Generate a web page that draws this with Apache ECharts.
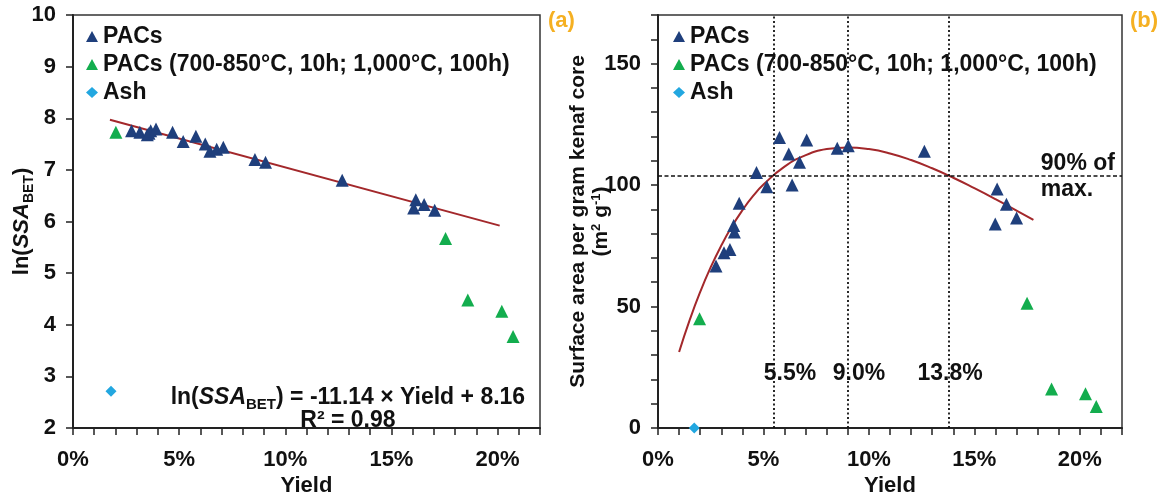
<!DOCTYPE html>
<html><head><meta charset="utf-8">
<script src="https://cdn.jsdelivr.net/npm/echarts@6/dist/echarts.min.js"></script>
<style>html,body{margin:0;padding:0;background:#fff}#c{width:1157px;height:502px}</style>
</head><body><div id="c"></div>
<script>
// ---- data ----
// panel (a): ln(SSA_BET) vs yield (%)
const pacsLn = [[2.76,7.76],[3.15,7.73],[3.50,7.68],[3.58,7.71],[3.66,7.76],[3.91,7.79],[4.69,7.73],[5.19,7.55],[5.79,7.65],[6.23,7.50],[6.45,7.36],[6.77,7.40],[7.08,7.44],[8.57,7.20],[9.07,7.15],[12.68,6.80],[16.05,6.26],[16.15,6.42],[16.54,6.33],[17.04,6.22]];
const hotLn = [[2.02,7.73],[17.55,5.67],[18.60,4.48],[20.20,4.26],[20.73,3.77]];
const ashLn = [[1.79,2.71]];
const fitLn = [[1.74,7.97],[20.10,5.92]];
// panel (b): surface area per gram kenaf core vs yield (%)
const pacsArea = [[2.75,66.7],[3.13,72.1],[3.41,73.5],[3.59,83.4],[3.62,80.7],[3.85,92.5],[4.67,105.2],[5.16,99.3],[5.76,119.6],[6.20,112.8],[6.36,100.0],[6.71,109.4],[7.05,118.5],[8.50,115.2],[9.02,116.2],[12.63,113.9],[15.99,84.0],[16.08,98.4],[16.52,92.1],[17.00,86.4]];
const hotArea = [[1.97,45.0],[17.50,51.4],[18.66,16.1],[20.27,14.1],[20.78,8.9]];
const ashArea = [[1.72,0]];
const curveArea = [[1,31.3],[1.5,44.4],[2,56.0],[2.5,66.2],[3,75.1],[3.5,82.9],[4,89.6],[4.5,95.4],[5,100.2],[6,107.6],[7,112.3],[8,114.8],[9,115.5],[10,114.8],[11,113.0],[12,110.3],[13,106.9],[14,103.0],[15,98.7],[16,94.2],[17,89.5],[17.8,85.7]];
const optimumYields = [5.5, 9.0, 13.8];
const optimumLabels = ['5.5%', '9.0%', '13.8%'];
const ninetyPctMax = 104;
const seriesNames = ['PACs', 'PACs (700-850°C, 10h; 1,000°C, 100h)', 'Ash'];
const yieldLabelStep = 5;

// ---- styles ----
const F = 'Liberation Sans, Arial, sans-serif';
const INK = '#111111';
const C_BLUE = '#1f3f7c', C_GREEN = '#13ad4e', C_ASH = '#22a7e0', C_FIT = '#a3282b', C_TAG = '#f5b022';

const chart = echarts.init(document.getElementById('c'), null, {renderer: 'canvas'});

function xAxisFor(gi) {
  return {
    gridIndex: gi, type: 'value', min: 0, max: 22, interval: 1,
    name: 'Yield', nameLocation: 'middle', nameGap: 47, nameMoveOverlap: false,
    nameTextStyle: {fontFamily: F, fontWeight: 'bold', fontSize: 22, color: INK},
    axisLine: {lineStyle: {color: '#222', width: 2}},
    axisTick: {length: 7, lineStyle: {color: '#222', width: 1.5}},
    axisLabel: {margin: 21, fontFamily: F, fontWeight: 'bold', fontSize: 22, color: INK,
      formatter: v => (Math.round(v) % yieldLabelStep === 0 && v <= 20) ? v + '%' : ''},
    splitLine: {show: false}
  };
}
function scatterFor(gi, name, data, color, symbol, size) {
  return {type: 'scatter', name, xAxisIndex: gi, yAxisIndex: gi, data, symbol, symbolSize: size,
    itemStyle: {color, opacity: 1}, z: 5, emphasis: {disabled: true}};
}
const legendBase = {
  orient: 'vertical', itemWidth: 12, itemHeight: 11, itemGap: 5, selectedMode: false,
  textStyle: {fontFamily: F, fontWeight: 'bold', fontSize: 23, color: INK},
  data: [{name: seriesNames[0], icon: 'triangle'}, {name: seriesNames[1], icon: 'triangle'}, {name: seriesNames[2], icon: 'diamond'}]
};
const noBorder = {textBorderWidth: 0, textShadowBlur: 0, opacity: 1};

const option = {
  animation: false,
  backgroundColor: '#fff',
  title: [
    {text: '(a)', left: 543, top: 5, textStyle: {fontFamily: F, fontWeight: 'bold', fontSize: 22, color: C_TAG}},
    {text: '(b)', left: 1125, top: 5, textStyle: {fontFamily: F, fontWeight: 'bold', fontSize: 22, color: C_TAG}}
  ],
  legend: [
    Object.assign({}, legendBase, {left: 81, top: 20}),
    Object.assign({}, legendBase, {left: 668, top: 20})
  ],
  grid: [
    {left: 73, top: 15, width: 467, height: 417, show: true, borderColor: '#333', borderWidth: 1.5, backgroundColor: 'transparent'},
    {left: 658, top: 15, width: 464, height: 417, show: true, borderColor: '#333', borderWidth: 1.5, backgroundColor: 'transparent'}
  ],
  xAxis: [xAxisFor(0), xAxisFor(1)],
  yAxis: [
    {gridIndex: 0, type: 'value', min: 2, max: 10, interval: 1,
      name: '{n|ln(}{i|SSA}{s|BET}{n|)}', nameLocation: 'middle', nameGap: 37, nameMoveOverlap: false,
      nameTextStyle: {fontFamily: F, fontWeight: 'bold', fontSize: 22, color: INK,
        rich: {n: {fontFamily: F, fontWeight: 'bold', fontSize: 22, color: INK, lineHeight: 28},
               i: {fontFamily: F, fontWeight: 'bold', fontStyle: 'italic', fontSize: 22, color: INK, lineHeight: 28},
               s: {fontFamily: F, fontWeight: 'bold', fontSize: 14, color: INK, lineHeight: 14, verticalAlign: 'bottom'}}},
      axisLine: {lineStyle: {color: '#222', width: 2}},
      axisTick: {length: 7, lineStyle: {color: '#222', width: 1.5}},
      axisLabel: {margin: 17, fontFamily: F, fontWeight: 'bold', fontSize: 22, color: INK},
      splitLine: {show: false}},
    {gridIndex: 1, type: 'value', min: 0, max: 170, interval: 10,
      name: '{n|Surface area per gram kenaf core}\n{n|(m}{p|2}{n| g}{p|-1}{n|)}', nameLocation: 'middle', nameGap: 45, nameMoveOverlap: false,
      nameTextStyle: {fontFamily: F, fontWeight: 'bold', fontSize: 21, color: INK,
        rich: {n: {fontFamily: F, fontWeight: 'bold', fontSize: 21, color: INK, lineHeight: 23},
               p: {fontFamily: F, fontWeight: 'bold', fontSize: 13, color: INK, lineHeight: 13, verticalAlign: 'top'}}},
      axisLine: {lineStyle: {color: '#222', width: 2}},
      axisTick: {length: 7, lineStyle: {color: '#222', width: 1.5}},
      axisLabel: {margin: 17, fontFamily: F, fontWeight: 'bold', fontSize: 22, color: INK,
        formatter: v => (v % 50 === 0 && v <= 150) ? String(v) : ''},
      splitLine: {show: false}}
  ],
  series: [
    // panel (a)
    {type: 'line', name: 'fitA', xAxisIndex: 0, yAxisIndex: 0, data: fitLn, showSymbol: false, silent: true,
      lineStyle: {color: C_FIT, width: 2}, z: 3},
    scatterFor(0, seriesNames[0], pacsLn, C_BLUE, 'triangle', 13),
    scatterFor(0, seriesNames[1], hotLn, C_GREEN, 'triangle', 13),
    scatterFor(0, seriesNames[2], ashLn, C_ASH, 'diamond', 11),
    {type: 'scatter', name: 'eqA', xAxisIndex: 0, yAxisIndex: 0, silent: true, symbolSize: 0, itemStyle: {color: 'transparent', opacity: 1},
      data: [{value: [12.95, 2.58], label: {formatter: '{n|ln(}{i|SSA}{s|BET}{n|) = -11.14 × Yield + 8.16}'}},
             {value: [12.95, 2.14], label: {formatter: '{n|R² = 0.98}'}}],
      label: Object.assign({show: true, position: 'inside', align: 'center', verticalAlign: 'middle', color: INK,
        rich: {n: Object.assign({fontFamily: F, fontWeight: 'bold', fontSize: 23, color: INK, lineHeight: 28}, noBorder),
               i: Object.assign({fontFamily: F, fontWeight: 'bold', fontStyle: 'italic', fontSize: 23, color: INK, lineHeight: 28}, noBorder),
               s: Object.assign({fontFamily: F, fontWeight: 'bold', fontSize: 15, color: INK, lineHeight: 15, verticalAlign: 'bottom'}, noBorder)}}, noBorder)},
    // panel (b)
    {type: 'line', name: 'guides', xAxisIndex: 1, yAxisIndex: 1, data: [], silent: true, z: 1,
      markLine: {silent: true, symbol: ['none', 'none'], label: {show: false}, animation: false,
        data: optimumYields.map(v => ({xAxis: v, lineStyle: {type: [2, 2.5], color: '#111', width: 1.8}}))
          .concat([{yAxis: ninetyPctMax, lineStyle: {type: [4, 2.5], color: '#111', width: 1.6}}])}},
    {type: 'line', name: 'curveB', xAxisIndex: 1, yAxisIndex: 1, data: curveArea, smooth: true, showSymbol: false, silent: true,
      lineStyle: {color: C_FIT, width: 2}, z: 3},
    scatterFor(1, seriesNames[0], pacsArea, C_BLUE, 'triangle', 13),
    scatterFor(1, seriesNames[1], hotArea, C_GREEN, 'triangle', 13),
    scatterFor(1, seriesNames[2], ashArea, C_ASH, 'diamond', 11),
    {type: 'scatter', name: 'notesB', xAxisIndex: 1, yAxisIndex: 1, silent: true, symbolSize: 0, itemStyle: {color: 'transparent', opacity: 1},
      data: [
        {value: [6.26, 22.5], label: {formatter: optimumLabels[0]}},
        {value: [9.53, 22.5], label: {formatter: optimumLabels[1]}},
        {value: [13.85, 22.5], label: {formatter: optimumLabels[2]}},
        {value: [18.15, 108.7], label: {formatter: '90% of', align: 'left'}},
        {value: [18.15, 98.0], label: {formatter: 'max.', align: 'left'}}
      ],
      label: Object.assign({show: true, position: 'inside', align: 'center', verticalAlign: 'middle',
        fontFamily: F, fontWeight: 'bold', fontSize: 23, color: INK}, noBorder)}
  ]
};
chart.setOption(option);
</script></body></html>
